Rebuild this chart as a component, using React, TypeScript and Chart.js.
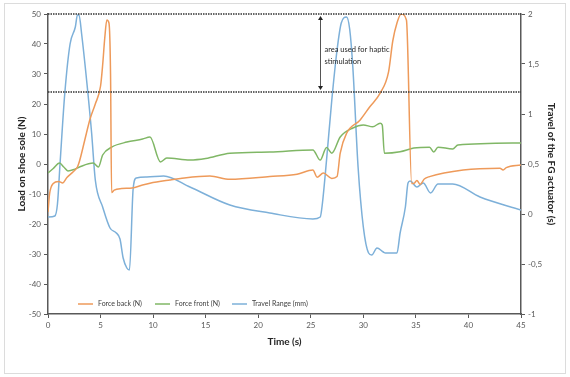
import React, { useEffect, useRef } from 'react';
import { Chart, registerables } from 'chart.js';

Chart.register(...registerables);

// ---- data ----
const seriesLabels = ['Force back (N)', 'Force front (N)', 'Travel Range (mm)'];

const forceBackTime = [0, 0.15, 0.5, 1.0, 1.4, 1.8, 2.4, 2.8, 3.0, 3.5, 4.0, 4.5, 5.0, 5.2, 5.4, 5.6, 5.8, 5.95, 6.05, 6.3, 7.0, 8.0, 9.0, 9.7, 11.6, 12.6, 15.4, 17.3, 21.1, 23.7, 25.2, 25.6, 26.2, 27.0, 27.5, 27.8, 28.4, 29.7, 30.6, 31.6, 32.4, 32.8, 33.2, 33.6, 34.1, 34.6, 34.8, 35.1, 35.4, 35.8, 36.3, 39.5, 43.0, 43.3, 43.6, 45];
const forceBackValues = [-16, -10, -6.5, -5.8, -6.3, -4.5, -2.6, -1, 1, 8, 15, 20, 26, 33, 42, 48, 47, 30, -9.5, -8.7, -8.2, -8.0, -7, -6.4, -5.3, -4.8, -4, -5.1, -4.2, -3.4, -2, -4.4, -3, -4.8, -4.2, 3.6, 10.2, 14.7, 19, 23.6, 30.7, 41, 47, 50, 48, -6.5, -6.5, -5.5, -6.8, -5, -4.2, -2, -1.4, -2, -1.2, -0.3];

const forceFrontTime = [0, 0.5, 1.1, 1.5, 1.9, 2.5, 3.0, 4.3, 4.8, 5.2, 6.1, 7.5, 9.0, 9.7, 10.7, 11.3, 13.5, 15.0, 17.3, 21.1, 25.2, 25.9, 26.5, 27.0, 27.8, 29.0, 30.0, 30.9, 31.6, 31.8, 32.0, 33.5, 34.8, 36.3, 36.7, 37.1, 38.5, 39.0, 45];
const forceFrontValues = [-3, -1.5, 0.3, -1, -2.3, -1.8, -1, 0.3, -1, 3, 5.7, 7.3, 8.3, 9, 0.7, 2, 1.3, 1.8, 3.6, 4, 4.7, 1.3, 5.5, 3.6, 9, 12, 13, 12.4, 13.6, 13, 3.6, 4.1, 5.3, 5.6, 4, 5.6, 5, 6.3, 7];

const travelTime = [0, 0.65, 0.9, 1.15, 1.6, 2.1, 2.6, 2.8, 2.95, 3.2, 3.7, 4.15, 4.5, 5.2, 5.9, 6.5, 6.85, 7.15, 7.5, 7.75, 8.1, 8.4, 9.4, 11.0, 13.5, 17.3, 21.1, 25.2, 25.9, 26.1, 26.5, 27.0, 27.5, 27.9, 28.4, 28.7, 29.0, 29.5, 30.0, 30.5, 30.8, 31.3, 31.9, 32.1, 33.2, 33.5, 34.0, 34.25, 34.45, 35.1, 35.7, 36.4, 37.1, 38.5, 41.1, 45];
const travelValues = [-0.03, -0.02, 0.1, 0.51, 1.21, 1.7, 1.87, 1.99, 1.99, 1.8, 1.31, 0.81, 0.34, 0.07, -0.14, -0.19, -0.25, -0.44, -0.54, -0.56, 0.25, 0.36, 0.37, 0.38, 0.27, 0.09, 0.01, -0.05, -0.03, 0.1, 0.54, 1.14, 1.64, 1.91, 1.97, 1.85, 1.47, 0.47, -0.13, -0.39, -0.41, -0.34, -0.38, -0.39, -0.39, -0.19, 0.07, 0.31, 0.33, 0.27, 0.31, 0.21, 0.3, 0.3, 0.17, 0.04];

const hapticBandLevels = [50, 24]; // left-axis values of the dotted lines
const annotationTime = 25.9;
const annotationTextTime = 26.3;
const annotationTextLevels = [38, 34.3];
const annotationLines = ['area used for haptic', 'stimulation'];

const colors = ['#EE9A5A', '#80B766', '#7DB0D9'];
const FONT = 'Lato, "Open Sans", sans-serif';

const pairs = (xs: number[], ys: number[]) => xs.map((x, i) => ({ x, y: ys[i] }));

const decorPlugin = {
  id: 'decor',
  beforeDraw(chart: any) {
    const { ctx } = chart;
    ctx.save();
    ctx.fillStyle = '#ffffff';
    ctx.fillRect(0, 0, chart.width, chart.height);
    ctx.strokeStyle = '#dcdcdc';
    ctx.lineWidth = 1;
    ctx.strokeRect(4.5, 3.5, chart.width - 9, chart.height - 7);
    ctx.restore();
  },
  afterDatasetsDraw(chart: any) {
    const { ctx, chartArea } = chart;
    const xs = chart.scales.x;
    const yl = chart.scales.y;
    ctx.save();
    // dotted band lines
    ctx.strokeStyle = '#333333';
    ctx.lineWidth = 1.5;
    ctx.setLineDash([1.5, 1]);
    hapticBandLevels.forEach((v) => {
      const py = yl.getPixelForValue(v);
      ctx.beginPath();
      ctx.moveTo(chartArea.left, py);
      ctx.lineTo(chartArea.right, py);
      ctx.stroke();
    });
    ctx.setLineDash([]);
    // double arrow
    const ax = Math.round(xs.getPixelForValue(annotationTime)) + 0.5;
    const y1 = yl.getPixelForValue(hapticBandLevels[0]) + 2;
    const y2 = yl.getPixelForValue(hapticBandLevels[1]) - 2;
    ctx.strokeStyle = '#555555';
    ctx.fillStyle = '#222222';
    ctx.lineWidth = 1;
    ctx.beginPath();
    ctx.moveTo(ax, y1 + 3);
    ctx.lineTo(ax, y2 - 3);
    ctx.stroke();
    ctx.beginPath();
    ctx.moveTo(ax, y1);
    ctx.lineTo(ax - 2.5, y1 + 4);
    ctx.lineTo(ax + 2.5, y1 + 4);
    ctx.closePath();
    ctx.fill();
    ctx.beginPath();
    ctx.moveTo(ax, y2);
    ctx.lineTo(ax - 2.5, y2 - 4);
    ctx.lineTo(ax + 2.5, y2 - 4);
    ctx.closePath();
    ctx.fill();
    // annotation text
    ctx.font = '7.5px ' + FONT;
    ctx.fillStyle = '#262626';
    ctx.textBaseline = 'middle';
    ctx.textAlign = 'left';
    const tx = xs.getPixelForValue(annotationTextTime);
    annotationLines.forEach((line, i) => {
      ctx.fillText(line, tx, yl.getPixelForValue(annotationTextLevels[i]));
    });
    // legend inside plot
    const ly = chartArea.bottom - 10;
    ctx.font = '7px ' + FONT;
    chart.data.datasets.forEach((ds: any, i: number) => {
      const lx = chartArea.left + 30 + i * 77;
      ctx.strokeStyle = ds.borderColor;
      ctx.lineWidth = 1.5;
      ctx.beginPath();
      ctx.moveTo(lx, ly);
      ctx.lineTo(lx + 15, ly);
      ctx.stroke();
      ctx.fillStyle = '#404040';
      ctx.fillText(ds.label, lx + 20, ly);
    });
    ctx.restore();
  },
};

export default function App() {
  const ref = useRef<HTMLCanvasElement>(null);
  useEffect(() => {
    if (!ref.current) return;
    const tickFont = { family: FONT, size: 8 };
    const titleFont = { family: FONT, size: 10, weight: 'bold' as const };
    const chart = new Chart(ref.current, {
      type: 'line',
      data: {
        datasets: [
          { label: seriesLabels[0], data: pairs(forceBackTime, forceBackValues), borderColor: colors[0], yAxisID: 'y' },
          { label: seriesLabels[1], data: pairs(forceFrontTime, forceFrontValues), borderColor: colors[1], yAxisID: 'y' },
          { label: seriesLabels[2], data: pairs(travelTime, travelValues), borderColor: colors[2], yAxisID: 'y2' },
        ].map((d) => ({ ...d, borderWidth: 1.5, pointRadius: 0, fill: false, cubicInterpolationMode: 'monotone' as const })),
      },
      options: {
        animation: false,
        responsive: true,
        maintainAspectRatio: false,
        layout: { padding: { left: 12, right: 9, top: 14, bottom: 25 } },
        plugins: { legend: { display: false }, tooltip: { enabled: false } },
        scales: {
          x: {
            type: 'linear',
            min: 0,
            max: 45,
            ticks: { stepSize: 5, font: tickFont, color: '#595959', padding: 3 },
            grid: { drawOnChartArea: false, tickLength: 4, color: '#595959' },
            border: { color: '#595959', width: 1.5 },
            title: { display: true, text: 'Time (s)', font: titleFont, color: '#262626', padding: { top: 0, bottom: 4 } },
            afterFit: (s: any) => { s.height = 38; },
          },
          y: {
            position: 'left',
            min: -50,
            max: 50,
            ticks: { stepSize: 10, font: tickFont, color: '#595959', padding: 3 },
            grid: { drawOnChartArea: false, tickLength: 4, color: '#595959' },
            border: { color: '#595959', width: 1.5 },
            title: { display: true, text: 'Load on shoe sole (N)', font: titleFont, color: '#262626', padding: { top: 4, bottom: 0 } },
            afterFit: (s: any) => { s.width = 36; },
          },
          y2: {
            position: 'right',
            min: -1,
            max: 2,
            ticks: {
              stepSize: 0.5,
              font: tickFont,
              color: '#595959',
              padding: 3,
              callback: (v: any) => String(v).replace('.', ','),
            },
            grid: { drawOnChartArea: false, tickLength: 4, color: '#595959' },
            border: { color: '#595959', width: 1.5 },
            title: { display: true, text: 'Travel of the FG actuator (s)', font: titleFont, color: '#262626', padding: { top: 4, bottom: 0 } },
            afterFit: (s: any) => { s.width = 40; },
          },
        },
      },
      plugins: [decorPlugin],
    });
    return () => chart.destroy();
  }, []);
  return (
    <div style={{ position: 'absolute', left: 0, top: 0, width: 570, height: 377 }}>
      <canvas ref={ref} />
    </div>
  );
}
